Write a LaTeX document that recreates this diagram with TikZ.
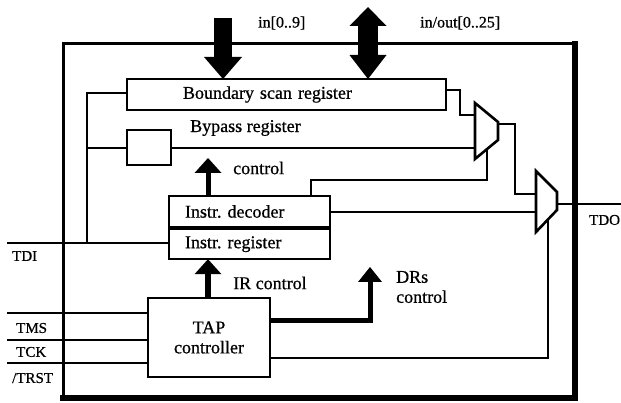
\documentclass[tikz,border=0pt]{standalone}
\usepackage{fontspec}
\setmainfont{Liberation Serif}[FakeBold=0.7]
\usetikzlibrary{arrows.meta}
\tikzset{
  wire/.style={line width=2.6pt, line join=miter},
  blk/.style={draw, line width=2.6pt, inner ysep=0pt, outer sep=0pt, font=\fontsize{18}{20}\selectfont},
  lbl/.style={inner sep=0pt, anchor=west, font=\fontsize{18}{20}\selectfont},
  sig/.style={inner sep=0pt, anchor=west, font=\fontsize{15}{17}\selectfont},
  buslbl/.style={inner sep=0pt, anchor=west, font=\fontsize{16}{18}\selectfont},
  bus/.style={line width=18pt, -{Triangle[width=38pt,length=22pt,line width=0pt]}},
  bibus/.style={line width=20pt, {Triangle[width=37pt,length=19pt,line width=0pt]}-{Triangle[width=37pt,length=24pt,line width=0pt]}},
  ctl/.style={line width=5pt, line join=miter, -{Triangle[width=27pt,length=15pt,line width=0pt]}},
}
\begin{document}
\frenchspacing
\begin{tikzpicture}[x=1pt,y=-1pt]
\useasboundingbox (0,0) rectangle (621,403);
% chip outline
\draw[line width=3pt, line cap=rect] (63,398) -- (63,44) -- (575,44);
\draw[line width=6.5pt, line cap=rect] (63,398) -- (575,398) -- (575,44);

% blocks
\node[blk, anchor=north west, minimum width=319pt, minimum height=31pt, inner xsep=56pt, text width=207pt, align=left] (bsr) at (127,79) {Boundary scan register};
\node[blk, anchor=north west, minimum width=44pt, minimum height=35pt] (byp) at (127,130) {};
\node[blk, anchor=north west, minimum width=161pt, minimum height=31pt, inner xsep=16pt, text width=129pt, align=left] (dec) at (169,196) {Instr.\ decoder};
\node[blk, anchor=north west, minimum width=161pt, minimum height=30pt, inner xsep=16pt, text width=129pt, align=left] (reg) at (169,229.2) {Instr.\ register};
\node[blk, anchor=north west, minimum width=122pt, minimum height=79pt, align=center] (tap) at (148,298) {TAP\\controller};

% multiplexers
\coordinate (m1tl) at (475,103); \coordinate (m1tr) at (498,122);
\coordinate (m1br) at (498,140); \coordinate (m1bl) at (475,159);
\draw[wire] (m1tl) -- (m1tr) -- (m1br) -- (m1bl) -- cycle;
\coordinate (m2tl) at (536,171); \coordinate (m2tr) at (557,192);
\coordinate (m2br) at (557,210); \coordinate (m2bl) at (536,232);
\draw[wire] (m2tl) -- (m2tr) -- (m2br) -- (m2bl) -- cycle;

% named free ends
\coordinate (tdiin) at (7,243);
\coordinate (tmsin) at (7,313);
\coordinate (tckin) at (7,340);
\coordinate (trstin) at (7,363);
\coordinate (tdoout) at (621,204);
\coordinate (m1in1) at (475,115);
\coordinate (m1in2) at (475,148);
\coordinate (m1sel) at (487,149.1);
\coordinate (m1out) at (498,124);
\coordinate (m2in1) at (536,194);
\coordinate (m2in2) at (536,212);
\coordinate (m2sel) at (548,219.4);
\coordinate (m2out) at (557,204);
\coordinate (ctltip) at (208,158);
\coordinate (drtip) at (370,267);
\coordinate (intop) at (223,18);
\coordinate (iotop) at (368,7);

% wires
\draw[wire] (bsr.east |- 0,90) -- (460,90) -- (460,115) -- (m1in1);
\draw[wire] (bsr.west |- 0,93) -- (87,93) -- (87,243);
\draw[wire] (87,148) -- (byp.west |- 0,148);
\draw[wire] (byp.east |- 0,148) -- (m1in2);
\draw[wire] (tdiin) -- (reg.west |- tdiin);
\draw[wire] (m1out) -- (515,124) -- (515,194) -- (m2in1);
\draw[wire] (dec.east |- m2in2) -- (m2in2);
\draw[wire] (dec.north -| 311,0) -- (311,180) -- (487,180) -- (m1sel);
\draw[wire] (m2out) -- (tdoout);
\draw[wire] (m2sel) -- (548,358) -- (tap.east |- 0,358);
\draw[wire] (tmsin) -- (tap.west |- tmsin);
\draw[wire] (tckin) -- (tap.west |- tckin);
\draw[wire] (trstin) -- (tap.west |- trstin);

% control arrows
\draw[ctl] (dec.north -| ctltip) -- (ctltip);
\draw[ctl, line width=5.5pt] (tap.north -| ctltip) -- (reg.south -| ctltip);
\draw[ctl, -{Triangle[width=24pt,length=15pt,line width=0pt]}] (tap.east |- 0,320) -- (drtip |- 0,320) -- (drtip);

% bus arrows
\draw[bus] (intop) -- (bsr.north -| intop);
\draw[bibus] (iotop) -- (bsr.north -| iotop);

% labels
\node[buslbl] (inlbl) at (258,23) {in[0..9]};
\node[buslbl] (iolbl) at (420,23) {in/out[0..25]};
\node[lbl] (byplbl) at (190,128) {Bypass register};
\node[lbl] (ctllbl) at (233,168) {control};
\node[lbl] (irlbl) at (233,283) {IR control};
\node[lbl, align=left] (drlbl) at (396,287) {DRs\\control};
\node[sig] (tdi) at (12,256) {TDI};
\node[sig] (tms) at (16,328) {TMS};
\node[sig] (tck) at (16,352) {TCK};
\node[sig] (trst) at (12,378) {/TRST};
\node[sig] (tdo) at (589,220) {TDO};
\end{tikzpicture}
\end{document}
